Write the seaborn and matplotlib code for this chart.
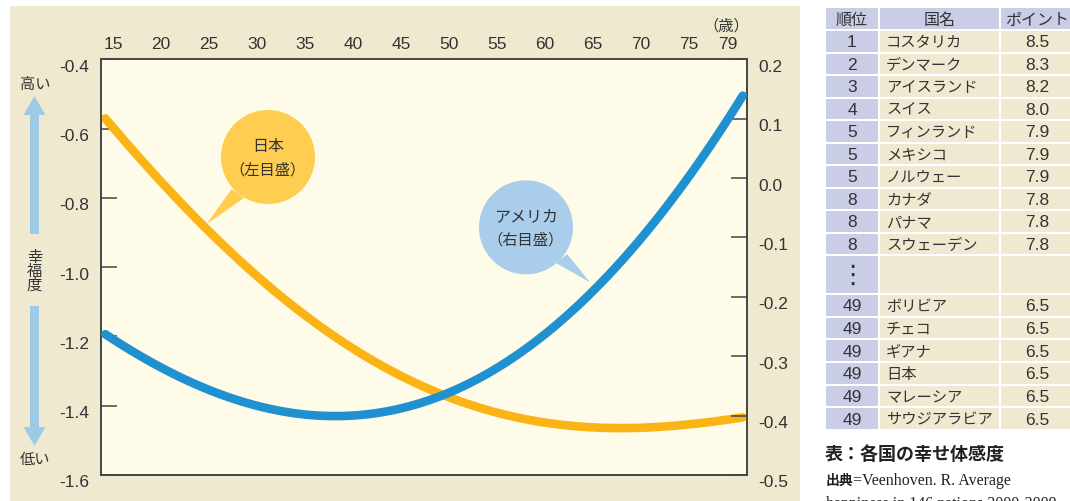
import numpy as np
import pandas as pd
import matplotlib
matplotlib.use("Agg")
import matplotlib.pyplot as plt
from matplotlib.patches import Rectangle, Circle, Polygon, FancyArrow
from matplotlib.transforms import ScaledTranslation
import seaborn as sns

# ---------------- data ----------------
ages = [14.2, 20, 25, 30, 35, 40, 45, 50, 55, 60, 65, 70, 75, 80.6]
japan = [-0.581, -0.740, -0.880, -1.029, -1.164, -1.245, -1.313, -1.356,
         -1.412, -1.448, -1.467, -1.472, -1.456, -1.429]
usa = [-0.262, -0.322, -0.353, -0.384, -0.401, -0.403, -0.381, -0.359,
       -0.322, -0.263, -0.196, -0.103, 0.012, 0.135]
x_ticks = [15, 20, 25, 30, 35, 40, 45, 50, 55, 60, 65, 70, 75, 79]
left_ticks = [-1.6, -1.4, -1.2, -1.0, -0.8, -0.6, -0.4]
right_ticks = [-0.5, -0.4, -0.3, -0.2, -0.1, 0.0, 0.1, 0.2]

tbl_header = ["順位", "国名", "ポイント"]
top_ranks = ["1", "2", "3", "4", "5", "5", "5", "8", "8", "8"]
top_names = ["コスタリカ", "デンマーク", "アイスランド", "スイス", "フィンランド",
             "メキシコ", "ノルウェー", "カナダ", "パナマ", "スウェーデン"]
top_points = ["8.5", "8.3", "8.2", "8.0", "7.9", "7.9", "7.9", "7.8", "7.8", "7.8"]
bot_ranks = ["49", "49", "49", "49", "49", "49"]
bot_names = ["ボリビア", "チェコ", "ギアナ", "日本", "マレーシア", "サウジアラビア"]
bot_points = ["6.5", "6.5", "6.5", "6.5", "6.5", "6.5"]

# ---------------- style ----------------
sns.set_theme(style="white")
plt.rcParams['font.family'] = ['Liberation Sans', 'Noto Sans CJK JP', 'DejaVu Sans']
plt.rcParams['axes.unicode_minus'] = False

W, H = 1070, 502
fig = plt.figure(figsize=(W / 100, H / 100), dpi=100)
fig.patch.set_facecolor("white")

PANEL = "#EFE9D0"
PLOTBG = "#FEFBE9"
ORANGE = "#FBB416"
BLUE = "#1F91D0"
TXT = "#333333"
LAV = "#C9CDE6"
BEIGE = "#F0E9D1"

# beige panel behind chart
fig.add_artist(Rectangle((10 / W, 0), 790 / W, 495 / H, transform=fig.transFigure,
                         facecolor=PANEL, edgecolor="none", zorder=-5))

# main axes (pixel geometry)
L, R, T, B = 100.7, 747, 60.3, 476
ax = fig.add_axes([L / W, 1 - B / H, (R - L) / W, (B - T) / H])
ax.set_facecolor(PLOTBG)
ax2 = ax.twinx()

df_jp = pd.DataFrame({"age": ages, "val": japan})
df_us = pd.DataFrame({"age": ages, "val": usa})
sns.regplot(data=df_jp, x="age", y="val", ax=ax, order=4, ci=None, scatter=False,
            truncate=True, color=ORANGE,
            line_kws=dict(linewidth=6.2, solid_capstyle="round", zorder=3))
sns.regplot(data=df_us, x="age", y="val", ax=ax2, order=4, ci=None, scatter=False,
            truncate=True, color=BLUE,
            line_kws=dict(linewidth=6.2, solid_capstyle="round", zorder=3))

ax.set_xlim(13.72, 81.04)
ax.set_ylim(-1.6, -0.4)
ax2.set_ylim(-0.5, 0.2)
for a in (ax, ax2):
    a.set_xlabel("")
    a.set_ylabel("")
    for s in a.spines.values():
        s.set_color("#444444")
        s.set_linewidth(1.2)

ax.xaxis.tick_top()
ax.set_xticks(x_ticks)
ax.set_xticklabels([str(v) for v in x_ticks])
ax.tick_params(axis="x", length=0, pad=6, labelsize=12.5, labelcolor=TXT)

ax.set_yticks(left_ticks)
ax.set_yticklabels([f"{v:.1f}" for v in left_ticks])
ax.tick_params(axis="y", direction="in", length=11.5, width=1.1, color="#444444",
               pad=8, labelsize=12.5, labelcolor=TXT)
ax2.set_yticks(right_ticks)
ax2.set_yticklabels([f"{v:.1f}" for v in right_ticks])
ax2.tick_params(axis="y", direction="in", length=11.5, width=1.1, color="#444444",
                pad=8, labelsize=12.5, labelcolor=TXT)
shift = ScaledTranslation(0, -5.5 / 100, fig.dpi_scale_trans)
for lab in ax.get_yticklabels() + ax2.get_yticklabels():
    lab.set_transform(lab.get_transform() + shift)

# ---------------- overlay in pixel coordinates ----------------
ov = fig.add_axes([0, 0, 1, 1], zorder=10)
ov.set_xlim(0, W)
ov.set_ylim(H, 0)
ov.axis("off")

ov.text(726, 26, "（歳）", ha="center", va="center", fontsize=11, color=TXT)

# left scale arrows
ARW = "#9DCBE6"
ov.text(35, 85, "高い", ha="center", va="center", fontsize=11, color=TXT)
ov.add_patch(FancyArrow(34.5, 235, 0, -138, width=9, head_width=22, head_length=19,
                        length_includes_head=True, color=ARW, lw=0))
ov.text(34.5, 272, "幸\n福\n度", ha="center", va="center", fontsize=11,
        color=TXT, linespacing=0.95)
ov.add_patch(FancyArrow(34.5, 307, 0, 140, width=9, head_width=22, head_length=19,
                        length_includes_head=True, color=ARW, lw=0))
ov.text(35, 460, "低い", ha="center", va="center", fontsize=11, color=TXT)

# speech bubbles
JPB = "#FFCD50"
USB = "#AACDEB"
ov.add_patch(Polygon([(231.7, 190), (244, 199), (206.7, 225)], closed=True,
                     facecolor=JPB, edgecolor="none"))
ov.add_patch(Circle((268, 158), 47, facecolor=JPB, edgecolor="none"))
ov.text(268, 147, "日本", ha="center", va="center", fontsize=11.5, color=TXT)
ov.text(268, 170, "（左目盛）", ha="center", va="center", fontsize=11, color=TXT)

ov.add_patch(Polygon([(556, 264), (567, 255), (590, 283.3)], closed=True,
                     facecolor=USB, edgecolor="none"))
ov.add_patch(Circle((526, 228.3), 47, facecolor=USB, edgecolor="none"))
ov.text(526, 217, "アメリカ", ha="center", va="center", fontsize=11.5, color=TXT)
ov.text(526, 240, "（右目盛）", ha="center", va="center", fontsize=11, color=TXT)

# ---------------- table ----------------
cols = [(826, 878), (880, 999), (1001, 1072)]
rh = 22.5
gap = 2


def cell(x0, x1, y0, y1, fc):
    ov.add_patch(Rectangle((x0, y0), x1 - x0, y1 - y0, facecolor=fc,
                           edgecolor="none"))


def row(y0, h, vals, header=False):
    for ci, (x0, x1) in enumerate(cols):
        fc = LAV if (header or ci == 0) else BEIGE
        cell(x0, x1, y0, y0 + h - gap, fc)
    yc = y0 + (h - gap) / 2 + 0.5
    if vals is None:
        return
    if header:
        for ci, (x0, x1) in enumerate(cols):
            xc = (x0 + x1) / 2 if ci < 2 else 1037
            ov.text(xc, yc, vals[ci], ha="center", va="center", fontsize=11.5,
                    color=TXT)
    else:
        ov.text(852, yc, vals[0], ha="center", va="center", fontsize=12.5, color=TXT)
        ov.text(886, yc, vals[1], ha="left", va="center", fontsize=11, color=TXT)
        ov.text(1037, yc, vals[2], ha="center", va="center", fontsize=12.5, color=TXT)


y = 9
row(y, rh + 0.5, tbl_header, header=True)
y += rh + 0.5
for rk, nm, pt in zip(top_ranks, top_names, top_points):
    row(y, rh, (rk, nm, pt))
    y += rh
row(y, 39, None)
ov.text(852, y + 18.5, "⋮", ha="center", va="center", fontsize=19, color=TXT,
        family=['DejaVu Sans'])
y += 39
for rk, nm, pt in zip(bot_ranks, bot_names, bot_points):
    row(y, rh + 0.2, (rk, nm, pt))
    y += rh + 0.2

# caption
ov.text(825, 455, "表：各国の幸せ体感度", ha="left", va="center", fontsize=13,
        fontweight="bold", color="#222222", family=['Noto Sans CJK JP'])
ov.text(826, 481, "出典", ha="left", va="center", fontsize=10, fontweight="bold",
        color="#222222", family=['Noto Sans CJK JP'])
ov.text(853, 481, "=Veenhoven. R. Average", ha="left", va="center", fontsize=11.5,
        color="#222222", family=['Liberation Serif'])
ov.text(826, 504, "happiness in 146 nations 2000-2009", ha="left", va="center",
        fontsize=11.5, color="#222222", family=['Liberation Serif'])

fig.savefig("out.png", dpi=100, facecolor="white")
